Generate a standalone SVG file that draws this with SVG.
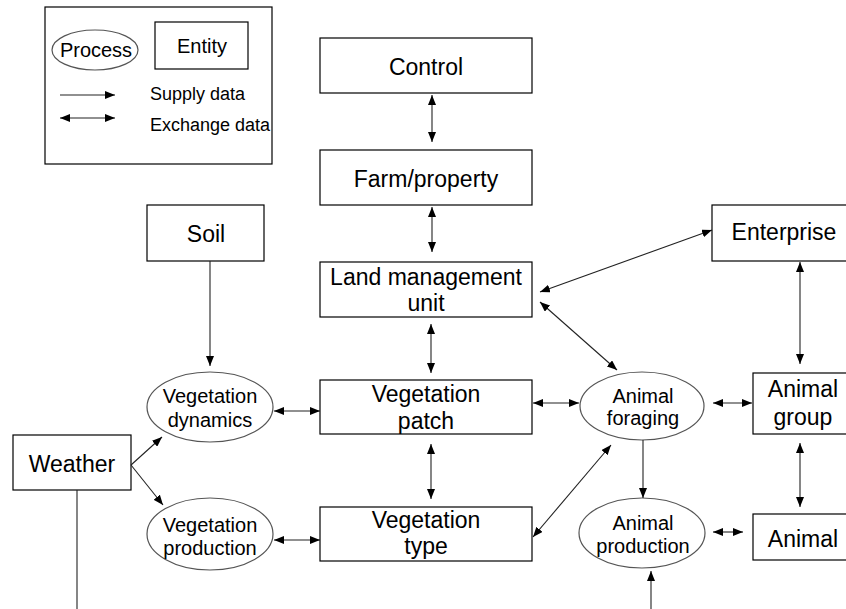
<svg xmlns="http://www.w3.org/2000/svg" width="846" height="609" viewBox="0 0 846 609">
<defs>
<marker id="ah" viewBox="0 0 10 8" refX="10" refY="4" markerWidth="10" markerHeight="8" markerUnits="userSpaceOnUse" orient="auto-start-reverse">
<path d="M0,0 L10,4 L0,8 z" fill="#000"/>
</marker>
<style>
.box{fill:#fff;stroke:#000;stroke-width:1.2}
.ell{fill:#fff;stroke:#555;stroke-width:1.2}
.t{font-family:"Liberation Sans",Arial,sans-serif;font-size:23px;fill:#000;text-anchor:middle}
.te{font-family:"Liberation Sans",Arial,sans-serif;font-size:20px;fill:#000;text-anchor:middle}
.tl{font-family:"Liberation Sans",Arial,sans-serif;font-size:18px;fill:#000}
.c{fill:none;stroke:#222;stroke-width:1.1}
.one{marker-end:url(#ah)}
.two{marker-start:url(#ah);marker-end:url(#ah)}
</style>
</defs>
<rect width="846" height="609" fill="#fff"/>

<g id="legend">
<rect x="45" y="7" width="227" height="157" class="box"/>
<ellipse cx="95" cy="50" rx="43" ry="20" class="ell"/>
<text x="96" y="57" class="te">Process</text>
<rect x="155" y="22" width="93" height="47" class="box"/>
<text x="202" y="53" class="te">Entity</text>
<path d="M60,95 L115,95" class="c one"/>
<path d="M60,118 L115,118" class="c two"/>
<text x="150" y="100" class="tl">Supply data</text>
<text x="150" y="131" class="tl">Exchange data</text>
</g>

<g id="control"><rect x="320" y="38" width="212" height="55" class="box"/><text x="426" y="75" class="t">Control</text></g>
<g id="farm"><rect x="320" y="150" width="212" height="55" class="box"/><text x="426" y="187" class="t">Farm/property</text></g>
<g id="lmu"><rect x="320" y="262" width="212" height="55" class="box"/><text x="426" y="285" class="t">Land management</text><text x="426" y="311" class="t">unit</text></g>
<g id="soil"><rect x="147" y="205" width="117" height="56" class="box"/><text x="206" y="242" class="t">Soil</text></g>
<g id="enterprise"><rect x="712" y="205" width="144" height="56" class="box"/><text x="784" y="240" class="t">Enterprise</text></g>
<g id="weather"><rect x="13" y="435" width="118" height="55" class="box"/><text x="72" y="472" class="t">Weather</text></g>
<g id="vdyn"><ellipse cx="210" cy="407" rx="63" ry="35" class="ell"/><text x="210" y="403" class="te">Vegetation</text><text x="210" y="427" class="te">dynamics</text></g>
<g id="vprod"><ellipse cx="210" cy="534" rx="63" ry="36" class="ell"/><text x="210" y="532" class="te">Vegetation</text><text x="210" y="555" class="te">production</text></g>
<g id="vpatch"><rect x="320" y="380" width="212" height="54" class="box"/><text x="426" y="402" class="t">Vegetation</text><text x="426" y="429" class="t">patch</text></g>
<g id="vtype"><rect x="320" y="507" width="212" height="54" class="box"/><text x="426" y="528" class="t">Vegetation</text><text x="426" y="554" class="t">type</text></g>
<g id="aforaging"><ellipse cx="642" cy="406" rx="62" ry="34" class="ell"/><text x="643" y="403" class="te">Animal</text><text x="643" y="425" class="te">foraging</text></g>
<g id="aproduction"><ellipse cx="642" cy="533" rx="63" ry="35" class="ell"/><text x="643" y="530" class="te">Animal</text><text x="643" y="553" class="te">production</text></g>
<g id="agroup"><rect x="753" y="373" width="103" height="61" class="box"/><text x="803" y="397" class="t">Animal</text><text x="803" y="425" class="t">group</text></g>
<g id="animal"><rect x="753" y="514" width="103" height="46" class="box"/><text x="803" y="547" class="t">Animal</text></g>

<g id="connectors">
<path d="M432,95 L432,142" class="c two"/>
<path d="M432,207 L432,252" class="c two"/>
<path d="M431,324 L431,373" class="c two"/>
<path d="M431,444 L431,499" class="c two"/>
<path d="M210,261 L210,366" class="c one"/>
<path d="M131,465 L162,437" class="c one"/>
<path d="M131,465 L163,505" class="c one"/>
<path d="M274,411 L320,411" class="c two"/>
<path d="M274,540 L320,540" class="c two"/>
<path d="M533,403 L579,403" class="c two"/>
<path d="M713,403 L752,403" class="c two"/>
<path d="M540,292 L712,230" class="c two"/>
<path d="M540,302 L617,370" class="c two"/>
<path d="M533,537 L611,445" class="c two"/>
<path d="M800,262 L800,364" class="c two"/>
<path d="M643,440 L643,498" class="c one"/>
<path d="M800,443 L800,507" class="c two"/>
<path d="M713,532 L743,532" class="c two"/>
<path d="M77,490 L77,609" class="c"/>
<path d="M651,609 L651,571" class="c one"/>
</g>
</svg>
